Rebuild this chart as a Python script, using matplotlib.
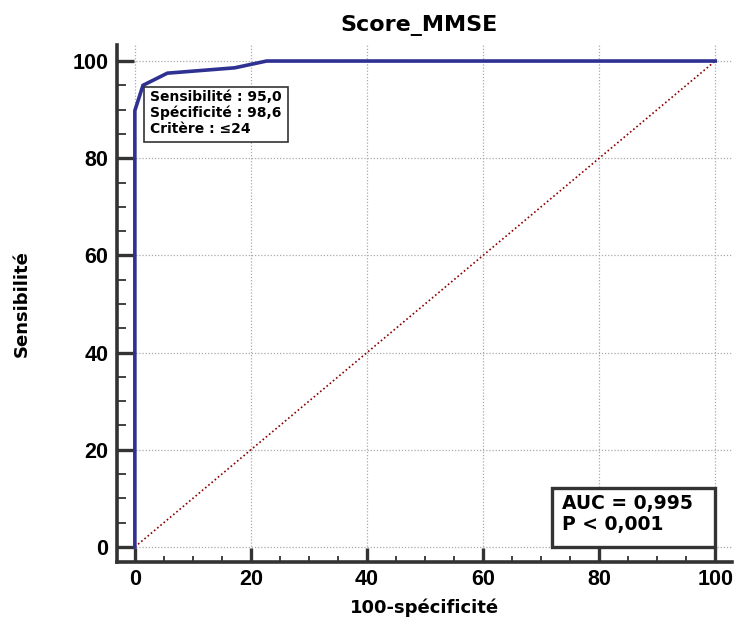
import matplotlib
matplotlib.use("Agg")
import matplotlib.pyplot as plt
from matplotlib.ticker import MultipleLocator
from matplotlib.patches import Rectangle

# ROC curve points (100 - specificity, sensitivity)
fpr = [0, 0, 1.4, 5.6, 17.2, 22.7, 100]
tpr = [0, 89.8, 95.0, 97.5, 98.6, 100, 100]
diag = [0, 100]

title = "Score_MMSE"
xlabel = "100-spécificité"
ylabel = "Sensibilité"
box1 = "Sensibilité : 95,0\nSpécificité : 98,6\nCritère : ≤24"
box2 = "AUC = 0,995\nP < 0,001"

wide = ['DejaVu Sans']
plt.rcParams['font.family'] = ['Liberation Sans', 'DejaVu Sans']

fig = plt.figure(figsize=(7.35, 6.18), dpi=100)
ax = fig.add_axes([0.159, 0.0906, 0.837, 0.8366])

ax.plot(diag, diag, color="#8b0000", linestyle=(0, (1, 1.5)), linewidth=1.2, zorder=2)
ax.plot(fpr, tpr, color="#2e3192", linewidth=2.6, zorder=3, solid_joinstyle='miter')

ax.set_xlim(-3.1, 102.9)
ax.set_ylim(-3.1, 103.3)

ax.xaxis.set_major_locator(MultipleLocator(20))
ax.yaxis.set_major_locator(MultipleLocator(20))
ax.xaxis.set_minor_locator(MultipleLocator(5))
ax.yaxis.set_minor_locator(MultipleLocator(5))

for s in ['top', 'right']:
    ax.spines[s].set_visible(False)
for s in ['left', 'bottom']:
    ax.spines[s].set_linewidth(2.6)
    ax.spines[s].set_color("#333333")

ax.tick_params(axis='y', which='major', direction='in', length=12.5, width=2.4, color="#333333",
               labelsize=15.5, pad=6)
ax.tick_params(axis='y', which='minor', direction='in', length=6.5, width=1.3, color="#333333")
ax.tick_params(axis='x', which='major', direction='in', length=10, width=2.4, color="#333333",
               labelsize=15.5, pad=5)
ax.tick_params(axis='x', which='minor', direction='in', length=4.5, width=1.3, color="#333333")
for lab in ax.get_xticklabels() + ax.get_yticklabels():
    lab.set_fontweight('bold')

ax.grid(True, which='major', color="#aaaaaa", linestyle=(0, (1, 1.5)), linewidth=0.9)
ax.set_axisbelow(True)

ax.set_title(title, fontsize=16, fontweight='bold', pad=10, family=wide, x=0.491)
ax.set_xlabel(xlabel, fontsize=13, fontweight='bold', labelpad=6, family=wide)
ax.set_ylabel(ylabel, fontsize=13, fontweight='bold', labelpad=30, family=wide)

# criterion box
ax.add_patch(Rectangle((1.55, 83.3), 24.85, 11.4, facecolor='white', edgecolor='#333333',
                       linewidth=1.2, zorder=5))
ax.text(2.6, 94.1, box1, fontsize=10, fontweight='bold', va='top', ha='left',
        linespacing=1.15, zorder=6, family=wide)

# AUC box
ax.add_patch(Rectangle((71.9, 0), 28.1, 12.1, facecolor='white', edgecolor='#333333',
                       linewidth=2.4, zorder=5))
ax.text(73.6, 10.9, box2, fontsize=13.5, fontweight='bold', va='top', ha='left',
        linespacing=1.15, zorder=6, family=wide)

fig.savefig("out.png", dpi=100)
